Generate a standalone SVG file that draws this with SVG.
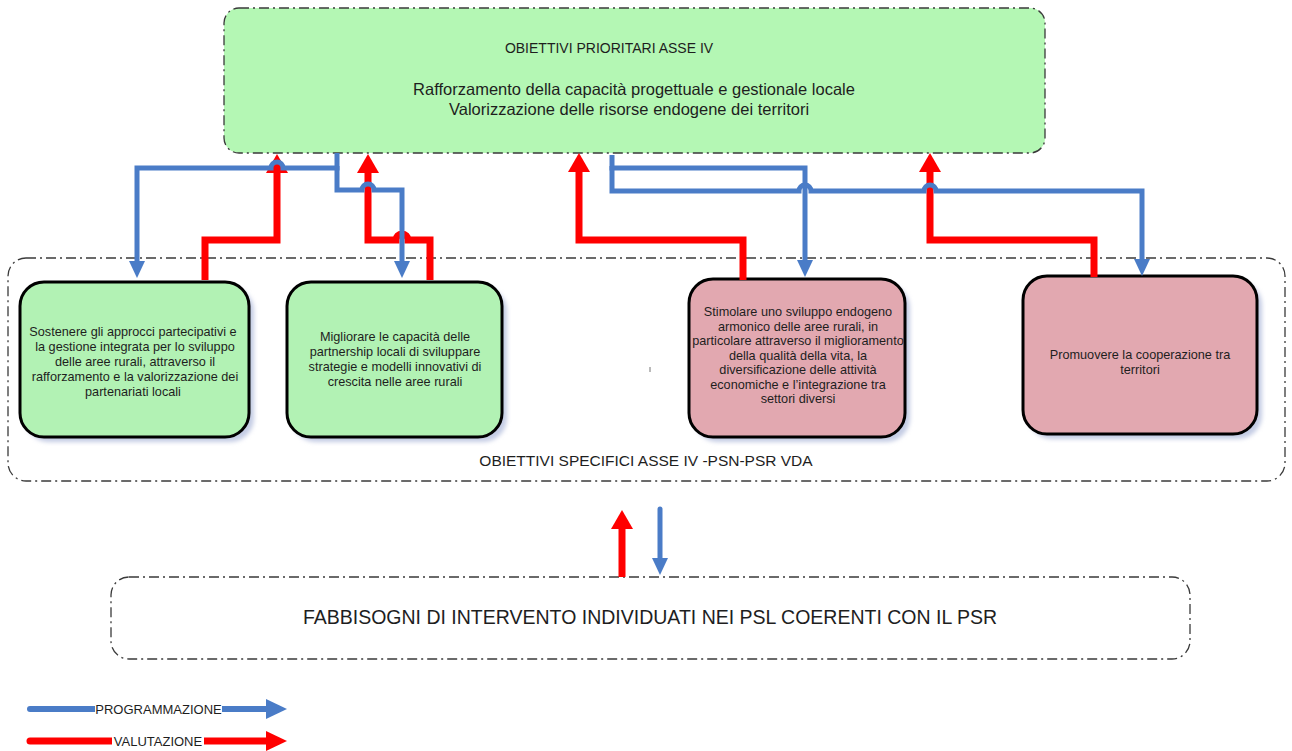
<svg xmlns="http://www.w3.org/2000/svg" width="1292" height="751" viewBox="0 0 1292 751">
<style>
.frame{fill:none;stroke:#3a3a3a;stroke-width:1.3;stroke-dasharray:10 4 2 4}
.node{stroke:#000;stroke-width:3}
.g{fill:#b2f2b4}
.p{fill:#e2a8b0}
.sh{fill:#c4cce4;filter:url(#blur)}
.t{font-family:"Liberation Sans",Arial,sans-serif;fill:#1e1e1e;text-anchor:middle}
.nt{font-size:12.7px}
.blue{fill:none;stroke:#4a7cc7;stroke-width:5;stroke-linejoin:miter}
.red{fill:none;stroke:#ff0000;stroke-width:7;stroke-linejoin:miter}
</style>
<defs>
<filter id="blur" x="-10%" y="-10%" width="120%" height="120%"><feGaussianBlur stdDeviation="2"/></filter>
<marker id="ab" markerUnits="userSpaceOnUse" markerWidth="18" markerHeight="18" refX="4" refY="9" orient="auto"><path d="M0,1 L17,9 L0,17 z" fill="#4a7cc7"/></marker>
<marker id="ar" markerUnits="userSpaceOnUse" markerWidth="20" markerHeight="24" refX="4" refY="12" orient="auto"><path d="M0,1 L19,12 L0,23 z" fill="#ff0000"/></marker>
<marker id="lb" markerUnits="userSpaceOnUse" markerWidth="22" markerHeight="22" refX="2" refY="11" orient="auto"><path d="M0,1 L21,11 L0,21 z" fill="#4a7cc7"/></marker>
<marker id="lr" markerUnits="userSpaceOnUse" markerWidth="22" markerHeight="22" refX="2" refY="11" orient="auto"><path d="M0,1 L21,11 L0,21 z" fill="#ff0000"/></marker>
</defs>
<rect width="1292" height="751" fill="#fff"/>

<g id="top">
<rect x="224" y="8" width="821" height="145" rx="15" fill="#b4f7b4"/>
<rect class="frame" x="224" y="8" width="821" height="145" rx="15"/>
<text class="t" x="609" y="53" font-size="14">OBIETTIVI PRIORITARI ASSE IV</text>
<text class="t" x="634" y="95" font-size="16.5">Rafforzamento della capacità progettuale e gestionale locale</text>
<text class="t" x="629" y="115" font-size="16.5">Valorizzazione delle risorse endogene dei territori</text>
</g>

<g id="specifici">
<rect class="frame" x="8" y="258" width="1277" height="223" rx="18"/>
<text class="t" x="646" y="466" font-size="15.5">OBIETTIVI SPECIFICI ASSE IV -PSN-PSR VDA</text>
<path d="M650,367 V372" stroke="#777" stroke-width="1"/>
</g>

<g id="n1">
<rect class="sh" x="25" y="287" width="229" height="155" rx="24"/>
<rect class="node g" x="20" y="282" width="229" height="155" rx="24"/>
<text class="t nt"><tspan x="133" y="336">Sostenere gli approcci partecipativi e</tspan><tspan x="135" y="351">la gestione integrata per lo sviluppo</tspan><tspan x="135" y="366">delle aree rurali, attraverso il</tspan><tspan x="135" y="381">rafforzamento e la valorizzazione dei</tspan><tspan x="133" y="396">partenariati locali</tspan></text>
</g>

<g id="n2">
<rect class="sh" x="292" y="287" width="215" height="155" rx="24"/>
<rect class="node g" x="287" y="282" width="215" height="155" rx="24"/>
<text class="t nt"><tspan x="395" y="341">Migliorare le capacità delle</tspan><tspan x="395" y="356">partnership locali di sviluppare</tspan><tspan x="395" y="371">strategie e modelli innovativi di</tspan><tspan x="395" y="386">crescita nelle aree rurali</tspan></text>
</g>

<g id="n3">
<rect class="sh" x="694" y="284" width="216" height="158" rx="24"/>
<rect class="node p" x="689" y="279" width="216" height="158" rx="24"/>
<text class="t nt"><tspan x="798" y="316">Stimolare uno sviluppo endogeno</tspan><tspan x="798" y="330.5">armonico delle aree rurali, in</tspan><tspan x="798" y="345">particolare attraverso il miglioramento</tspan><tspan x="798" y="359.5">della qualità della vita, la</tspan><tspan x="798" y="374">diversificazione delle attività</tspan><tspan x="798" y="388.5">economiche e l’integrazione tra</tspan><tspan x="798" y="403">settori diversi</tspan></text>
</g>

<g id="n4">
<rect class="sh" x="1028" y="281" width="234" height="158" rx="24"/>
<rect class="node p" x="1023" y="276" width="234" height="158" rx="24"/>
<text class="t nt"><tspan x="1140" y="359">Promuovere la cooperazione tra</tspan><tspan x="1140" y="374">territori</tspan></text>
</g>

<g id="fabbisogni">
<rect class="frame" x="111" y="577" width="1079" height="82" rx="18"/>
<text class="t" x="650" y="624" font-size="19.5">FABBISOGNI DI INTERVENTO INDIVIDUATI NEI PSL COERENTI CON IL PSR</text>
</g>

<g id="connectors">
<path class="red" d="M205,280 V240 H277 V169" marker-end="url(#ar)"/>
<path class="red" d="M430,280 V240 H408 a6,6 0 0 0 -12,0 H368 V169" marker-end="url(#ar)"/>
<path class="red" d="M743,280 V240 H579 V168" marker-end="url(#ar)"/>
<path class="red" d="M1094,277 V240 H930 V168" marker-end="url(#ar)"/>
<path class="blue" d="M337,153 V168 H283 a6,6 0 0 0 -12,0 H137 V265" marker-end="url(#ab)"/>
<path class="blue" d="M337,166 V190 H362 a6,6 0 0 1 12,0 H402 V265" marker-end="url(#ab)"/>
<path class="blue" d="M612,155 V168 H805 V264" marker-end="url(#ab)"/>
<path class="blue" d="M612,166 V191 H799 a6,6 0 0 1 12,0 H924 a6,6 0 0 1 12,0 H1142 V263" marker-end="url(#ab)"/>
<path class="red" d="M622,577 V525" marker-end="url(#ar)"/>
<path class="blue" d="M660,509 V562" stroke-linecap="round" marker-end="url(#ab)"/>
</g>

<g id="legend">
<path d="M30,709 H268" fill="none" stroke="#4a7cc7" stroke-width="6" stroke-linecap="round" marker-end="url(#lb)"/>
<rect x="95" y="702" width="127" height="14" fill="#fff"/>
<text class="t" x="158.5" y="713.5" font-size="13" fill="#222">PROGRAMMAZIONE</text>
<path d="M30,741 H268" fill="none" stroke="#ff0000" stroke-width="7" stroke-linecap="round" marker-end="url(#lr)"/>
<rect x="112" y="734" width="92" height="14" fill="#fff"/>
<text class="t" x="158" y="745.5" font-size="13" fill="#222">VALUTAZIONE</text>
</g>
</svg>
